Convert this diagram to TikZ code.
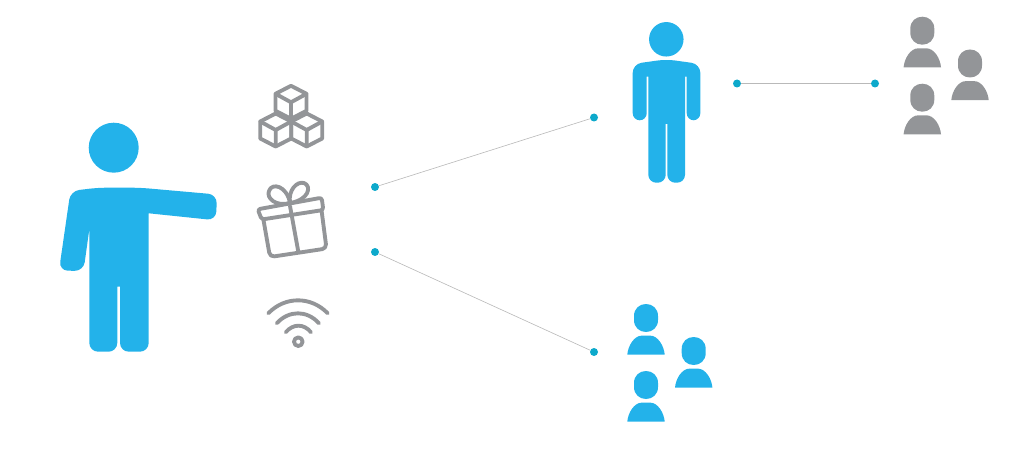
\documentclass[tikz,border=0pt]{standalone}
\usepackage{xcolor}
\usepackage{tikz}
\usetikzlibrary{arrows,positioning,shapes,fit,calc}
\definecolor{figblue}{HTML}{23B2EA}
\definecolor{icongray}{HTML}{939598}
\definecolor{dotblue}{HTML}{0DA9CB}
\newcommand{\usericon}[3]{
\begin{scope}[shift={(#1,#2)}]
\fill[#3] (0,-14) .. controls (6.5,-14) and (12,-9.5) .. (12,-2) -- (12,2) .. controls (12,9.5) and (6.5,14) .. (0,14) .. controls (-6.5,14) and (-12,9.5) .. (-12,2) -- (-12,-2) .. controls (-12,-9.5) and (-6.5,-14) .. (0,-14) -- cycle;
\fill[#3] (-18.7,36.6) .. controls (-18,28) and (-12,17.6) .. (-4,17.6) -- (4,17.6) .. controls (12,17.6) and (18,28) .. (18.7,36.6) -- cycle;
\end{scope}
}
\begin{document}
\begin{tikzpicture}[x=0.02cm,y=-0.02cm,
dot node/.style={circle,fill=dotblue,inner sep=0pt,minimum size=0.16cm},
link line/.style={draw=gray!55,line width=0.35pt},
icon line/.style={draw=icongray,line width=2.2pt,line cap=round,line join=round}]
\useasboundingbox (0,0) rectangle (1024,476);
\node[circle,fill=figblue,inner sep=0pt,minimum size=1cm] (bighead) at (113.7,147.7){};
\fill[figblue,rounded corners=5pt] (70.5,191) -- (98,187.7) -- (140,187.7) -- (217,194.5) -- (216,220.3) [rounded corners=0pt] -- (148.7,213.3) [rounded corners=5pt] -- (148.7,351.7) -- (120,351.7) [rounded corners=0pt] -- (120,286.7) -- (117.3,286.7) [rounded corners=5pt] -- (117.3,351.7) -- (89.3,351.7) [rounded corners=0pt] -- (89.3,229.3) [rounded corners=5pt] -- (83.5,271) -- (59,270.5) -- cycle;
\node[circle,fill=figblue,inner sep=0pt,minimum size=0.69cm] (smallhead) at (666.3,39.3){};
\fill[figblue,rounded corners=5pt] (632.7,64) -- (666.3,59.3) -- (700.3,64) [rounded corners=4pt] -- (700.3,120.3) -- (686.7,120.3) [rounded corners=0pt] -- (686.7,76.7) -- (685,76.7) [rounded corners=4.5pt] -- (685,182.7) -- (667.3,182.7) [rounded corners=0pt] -- (667.3,124) -- (665.7,124) [rounded corners=4.5pt] -- (665.7,182.7) -- (648.3,182.7) [rounded corners=0pt] -- (648.3,76.7) -- (646.7,76.7) [rounded corners=4pt] -- (646.7,120.3) -- (632.7,120.3) [rounded corners=5pt] -- cycle;
\foreach \cx/\cy in {291/102.3,275.7/130,306.7/130}{
\draw[icon line] (\cx,\cy-16.5) -- (\cx+15.5,\cy-8.5) -- (\cx+15.5,\cy+8.5) -- (\cx,\cy+16.5) -- (\cx-15.5,\cy+8.5) -- (\cx-15.5,\cy-8.5) -- cycle;
\draw[icon line] (\cx-15.5,\cy-8.5) -- (\cx,\cy) -- (\cx+15.5,\cy-8.5) (\cx,\cy) -- (\cx,\cy+16.5);
}
\draw[icon line,rounded corners=1.5pt] (257.7,209.3) -- (321.7,197.7) -- (323.3,210) -- (261.7,219.5) -- cycle;
\draw[icon line,rounded corners=2.5pt] (263.3,219) -- (270,257) -- (326.5,248.5) -- (321.5,210);
\draw[icon line] (290,206) -- (298.3,251.7);
\draw[icon line] (290,203) .. controls (276,207) and (266,198) .. (269,191) .. controls (272,182) and (287,186) .. (290,203);
\draw[icon line] (290,203) .. controls (288,190) and (297,181) .. (304,183) .. controls (312,186) and (309,200) .. (290,203);
\draw[icon line] (268.3,313.3) .. controls (285,296) and (311,296) .. (327.7,313.3);
\draw[icon line] (276.7,323.3) .. controls (289,310) and (307,310) .. (319,323.3);
\draw[icon line] (285.7,332.3) .. controls (293,323.5) and (304,323.5) .. (311,332.3);
\draw[icon line] (298.3,341.7) circle (4.3);
\usericon{922.3}{30.7}{icongray}
\usericon{970}{63.5}{icongray}
\usericon{922.3}{97.7}{icongray}
\usericon{646}{318}{figblue}
\usericon{693.7}{351}{figblue}
\usericon{646}{385}{figblue}
\node[dot node] (gift top) at (375,187){};
\node[dot node] (gift bottom) at (375,252){};
\node[dot node] (friend in) at (594,117.5){};
\node[dot node] (group in) at (594,352){};
\node[dot node] (friend out) at (737,83.5){};
\node[dot node] (others in) at (875,83.5){};
\draw[link line] (gift top)--(friend in);
\draw[link line] (gift bottom)--(group in);
\draw[link line] (friend out)--(others in);
\end{tikzpicture}
\end{document}
